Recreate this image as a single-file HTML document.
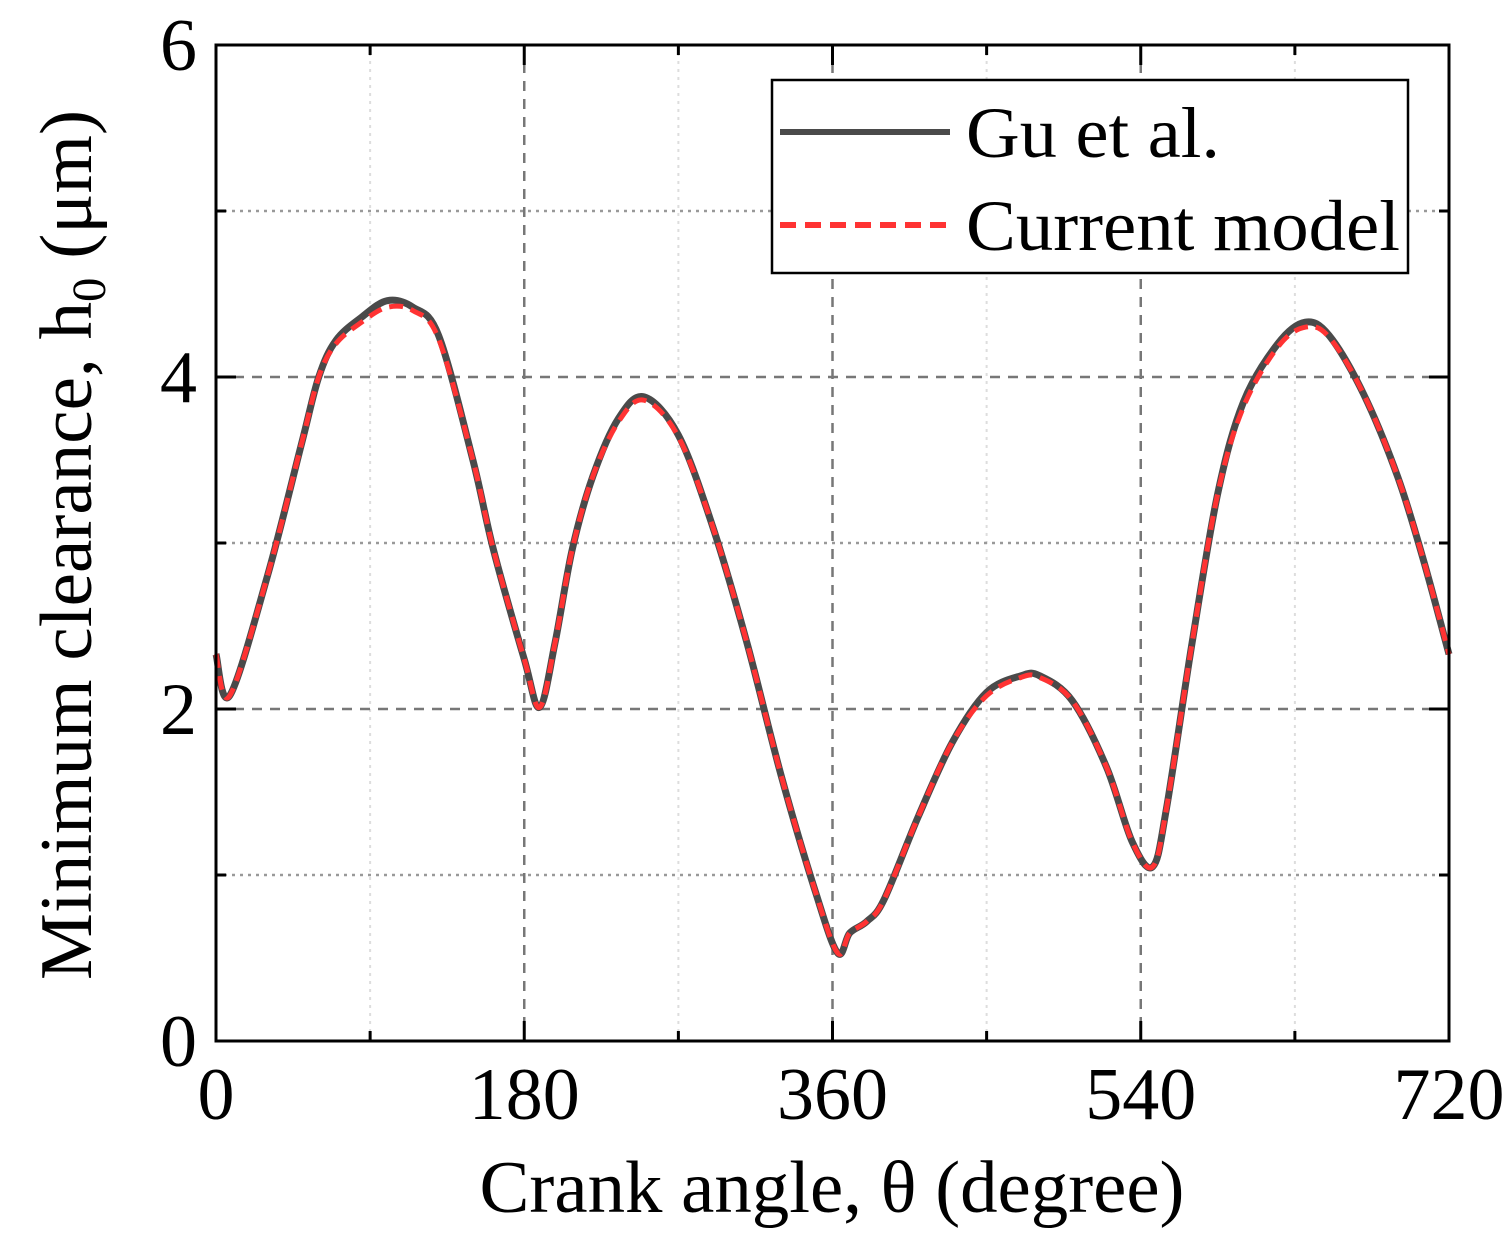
<!DOCTYPE html>
<html><head><meta charset="utf-8"><style>
body{margin:0;background:#fff}
svg{display:block}
text{font-family:"Liberation Serif",serif;fill:#000}
</style></head><body>
<svg width="1512" height="1251" viewBox="0 0 1512 1251">
<g id="grid"></g>
<g id="series"></g>
<rect x="216" y="45" width="1233" height="996" fill="none" stroke="#000" stroke-width="3"/>
<g id="ticks"></g>
<text x="832" y="1212" font-size="74" text-anchor="middle" textLength="705" lengthAdjust="spacingAndGlyphs">Crank angle, θ (degree)</text>
<text transform="translate(91,545) rotate(-90)" font-size="74" text-anchor="middle" textLength="870" lengthAdjust="spacingAndGlyphs">Minimum clearance, h<tspan font-size="48" dy="14">0</tspan><tspan dy="-14"> (μm)</tspan></text>
<g>
<rect x="772" y="80" width="636" height="193" fill="#fff" stroke="#000" stroke-width="2.5"/>
<line x1="780" y1="132" x2="950" y2="132" stroke="#4a4a4a" stroke-width="6"/>
<text x="966" y="157" font-size="72" textLength="254" lengthAdjust="spacingAndGlyphs">Gu et al.</text>
<line x1="780" y1="225" x2="950" y2="225" stroke="#ff3333" stroke-width="6" stroke-dasharray="16,9"/>
<text x="966" y="250" font-size="72" textLength="434" lengthAdjust="spacingAndGlyphs">Current model</text>
</g>
</svg>
<script>
const angles=[0,8,30,50,60,70,85,100,115,130,150,162,180,189,198,208,220,235,250,270,290,310,330,350,363,370,380,390,410,430,450,470,481,500,520,535,547,555,570,585,600,620,636,650,670,690,705,720];
const guValues=[2.33,2.08,2.8,3.6,4.0,4.22,4.36,4.46,4.42,4.25,3.5,2.96,2.3,2.01,2.4,2.96,3.4,3.75,3.88,3.65,3.1,2.4,1.6,0.9,0.53,0.65,0.72,0.85,1.35,1.8,2.1,2.2,2.2,2.05,1.65,1.2,1.05,1.4,2.4,3.3,3.85,4.2,4.33,4.25,3.9,3.4,2.9,2.33];
const currentValues=[2.33,2.08,2.8,3.6,4.0,4.2,4.33,4.42,4.4,4.23,3.5,2.96,2.3,2.01,2.4,2.96,3.4,3.73,3.86,3.64,3.1,2.4,1.6,0.9,0.53,0.65,0.72,0.85,1.35,1.8,2.08,2.19,2.19,2.05,1.65,1.2,1.05,1.4,2.4,3.3,3.82,4.18,4.3,4.24,3.9,3.4,2.9,2.33];
const xTicks=[0,180,360,540,720];
const yTicks=[0,2,4,6];
const NS='http://www.w3.org/2000/svg';
const X=v=>216+v/720*1233, Y=v=>1041-v/6*996;
function mk(t,a,p){const e=document.createElementNS(NS,t);for(const k in a)e.setAttribute(k,a[k]);p.appendChild(e);return e;}
const grid=document.getElementById('grid'),ticks=document.getElementById('ticks'),ser=document.getElementById('series');
for(let v=90;v<720;v+=90){const major=v%180===0;
 const l=mk('line',{x1:X(v),x2:X(v),y1:45,y2:1041,stroke:major?'#777':'#ddd','stroke-width':major?2.5:2,'stroke-dasharray':major?'10,8':'3,5'},grid);
 
 for(const [a,b] of [[1041,major?1021:1031],[45,major?65:55]]){const t=mk('line',{x1:X(v),x2:X(v),y1:a,y2:b,stroke:'#000','stroke-width':3},ticks);}}
for(let v=1;v<6;v++){const major=v%2===0;
 const l=mk('line',{x1:216,x2:1449,y1:Y(v),y2:Y(v),stroke:major?'#777':'#999','stroke-width':2.5,'stroke-dasharray':major?'10,8':'3,5'},grid);
 
 for(const [a,b] of [[216,major?236:226],[1449,major?1429:1439]]){const t=mk('line',{x1:a,x2:b,y1:Y(v),y2:Y(v),stroke:'#000','stroke-width':3},ticks);}}
xTicks.forEach(v=>{const t=mk('text',{x:X(v),y:1119,'font-size':74,'text-anchor':'middle'},ticks);t.textContent=v;});
yTicks.forEach(v=>{const t=mk('text',{x:197,y:Y(v)+25,'font-size':74,'text-anchor':'end'},ticks);t.textContent=v;});
function path(vals){
 const p=angles.map((a,i)=>[X(a),Y(vals[i])]);let d='M'+p[0];
 for(let i=0;i<p.length-1;i++){const p0=p[i-1]||p[i],p1=p[i],p2=p[i+1],p3=p[i+2]||p2;
  d+=` C${p1[0]+(p2[0]-p0[0])/6},${p1[1]+(p2[1]-p0[1])/6} ${p2[0]-(p3[0]-p1[0])/6},${p2[1]-(p3[1]-p1[1])/6} ${p2[0]},${p2[1]}`;}
 return d;}
const g=mk('path',{d:path(guValues),fill:'none',stroke:'#4a4a4a','stroke-width':7},ser);

const c=mk('path',{d:path(currentValues),fill:'none',stroke:'#ff3333','stroke-width':5,'stroke-dasharray':'14,8'},ser);

</script>
</body></html>
